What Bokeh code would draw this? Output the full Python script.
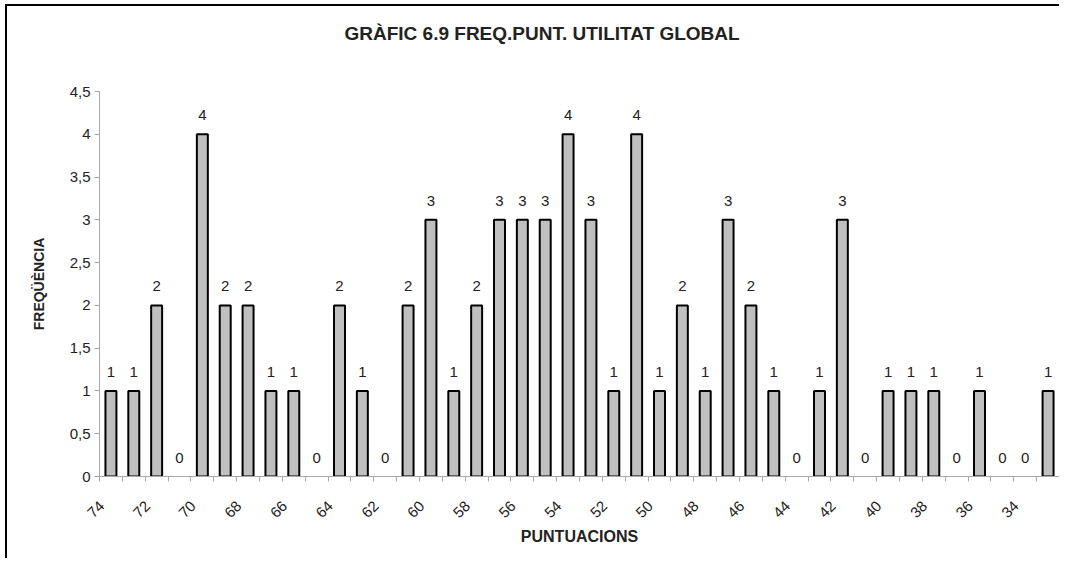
import numpy as np
from bokeh.plotting import figure
from bokeh.models import Range1d, FixedTicker, ColumnDataSource, LabelSet, Title
from bokeh.core.properties import value
from bokeh.embed import file_html
from bokeh.resources import INLINE

# ---- data ----
scores = list(range(74, 32, -1))  # 74 .. 33
freqs = [1, 1, 2, 0, 4, 2, 2, 1, 1, 0,
         2, 1, 0, 2, 3, 1, 2, 3, 3, 3,
         4, 3, 1, 4, 1, 2, 1, 3, 2, 1,
         0, 1, 3, 0, 1, 1, 1, 0, 1, 0,
         0, 1]
y_ticks = [0, 0.5, 1, 1.5, 2, 2.5, 3, 3.5, 4, 4.5]
y_tick_labels = ["0", "0,5", "1", "1,5", "2", "2,5", "3", "3,5", "4", "4,5"]
title_text = "GRÀFIC 6.9 FREQ.PUNT. UTILITAT GLOBAL"
x_title = "PUNTUACIONS"
y_title = "FREQÜÈNCIA"

n = len(scores)
pos = np.arange(n) + 0.5
nz = [i for i in range(n) if freqs[i] > 0]
bar_src = ColumnDataSource(dict(x=pos[nz], top=[freqs[i] for i in nz]))
lab_src = ColumnDataSource(dict(x=pos, top=freqs, label=[str(v) for v in freqs]))

FONT = "Liberation Sans"

p = figure(width=1054, height=554, output_backend="svg", toolbar_location=None,
           x_range=Range1d(0, n), y_range=Range1d(0, 4.5),
           min_border_left=94, min_border_right=0, min_border_top=87, min_border_bottom=82)
p.styles = {"margin-left": "5px", "margin-top": "4px",
            "box-shadow": "inset 2px 2px 0px 0px #000000"}
p.border_fill_color = None
p.background_fill_color = "white"

p.title.text = ""
# spacer between frame and title (closest to the frame)
p.add_layout(Title(text=" ", text_font_size="1px", standoff=45), "above")
p.add_layout(Title(text=title_text, text_font=FONT, text_font_size="19px",
                   text_font_style="bold", text_color="#222222",
                   align="left", offset=245, standoff=0), "above")

p.vbar(x="x", top="top", width=0.48, bottom=0, source=bar_src,
       fill_color="#c0c0c0", line_color="#000000", line_width=2)

labels = LabelSet(x="x", y="top", text="label", source=lab_src, text_align="center",
                  text_baseline="bottom", y_offset=14, text_font=value(FONT),
                  text_font_size=value("15px"), text_color=value("#222222"))
p.add_layout(labels)

p.grid.visible = False
p.outline_line_color = None

# x axis (labels every second score, ticks at category boundaries)
lab_pos = [pos[i] - 0.4 for i in range(0, n, 2)]
xa = p.xaxis[0]
xa.ticker = FixedTicker(ticks=lab_pos, minor_ticks=list(range(n + 1)))
xa.major_label_overrides = {float(lp): str(scores[i]) for lp, i in zip(lab_pos, range(0, n, 2))}
xa.major_label_orientation = np.pi / 4
xa.major_tick_line_color = None
xa.major_tick_out = 0
xa.minor_tick_out = 5
xa.minor_tick_in = 0
xa.minor_tick_line_color = "#a8a8a8"
xa.axis_line_color = "#a8a8a8"
xa.major_label_text_font = FONT
xa.major_label_text_font_size = "15px"
xa.major_label_text_color = "#222222"
xa.major_label_standoff = 22
xa.axis_label = x_title
xa.axis_label_text_font = FONT
xa.axis_label_text_font_size = "16px"
xa.axis_label_text_font_style = "bold"
xa.axis_label_text_color = "#222222"
xa.axis_label_standoff = 3

# y axis
ya = p.yaxis[0]
ya.ticker = FixedTicker(ticks=y_ticks)
ya.major_label_overrides = {float(t): l for t, l in zip(y_ticks, y_tick_labels)}
ya.major_tick_out = 5
ya.major_tick_in = 0
ya.minor_tick_line_color = None
ya.major_tick_line_color = "#a8a8a8"
ya.axis_line_color = "#a8a8a8"
ya.major_label_text_font = FONT
ya.major_label_text_font_size = "15px"
ya.major_label_text_color = "#222222"
ya.major_label_standoff = 4
ya.axis_label = y_title
ya.axis_label_text_font = FONT
ya.axis_label_text_font_size = "14px"
ya.axis_label_text_font_style = "bold"
ya.axis_label_text_color = "#222222"
ya.axis_label_standoff = 20

open("out.html", "w").write(file_html(p, INLINE))
